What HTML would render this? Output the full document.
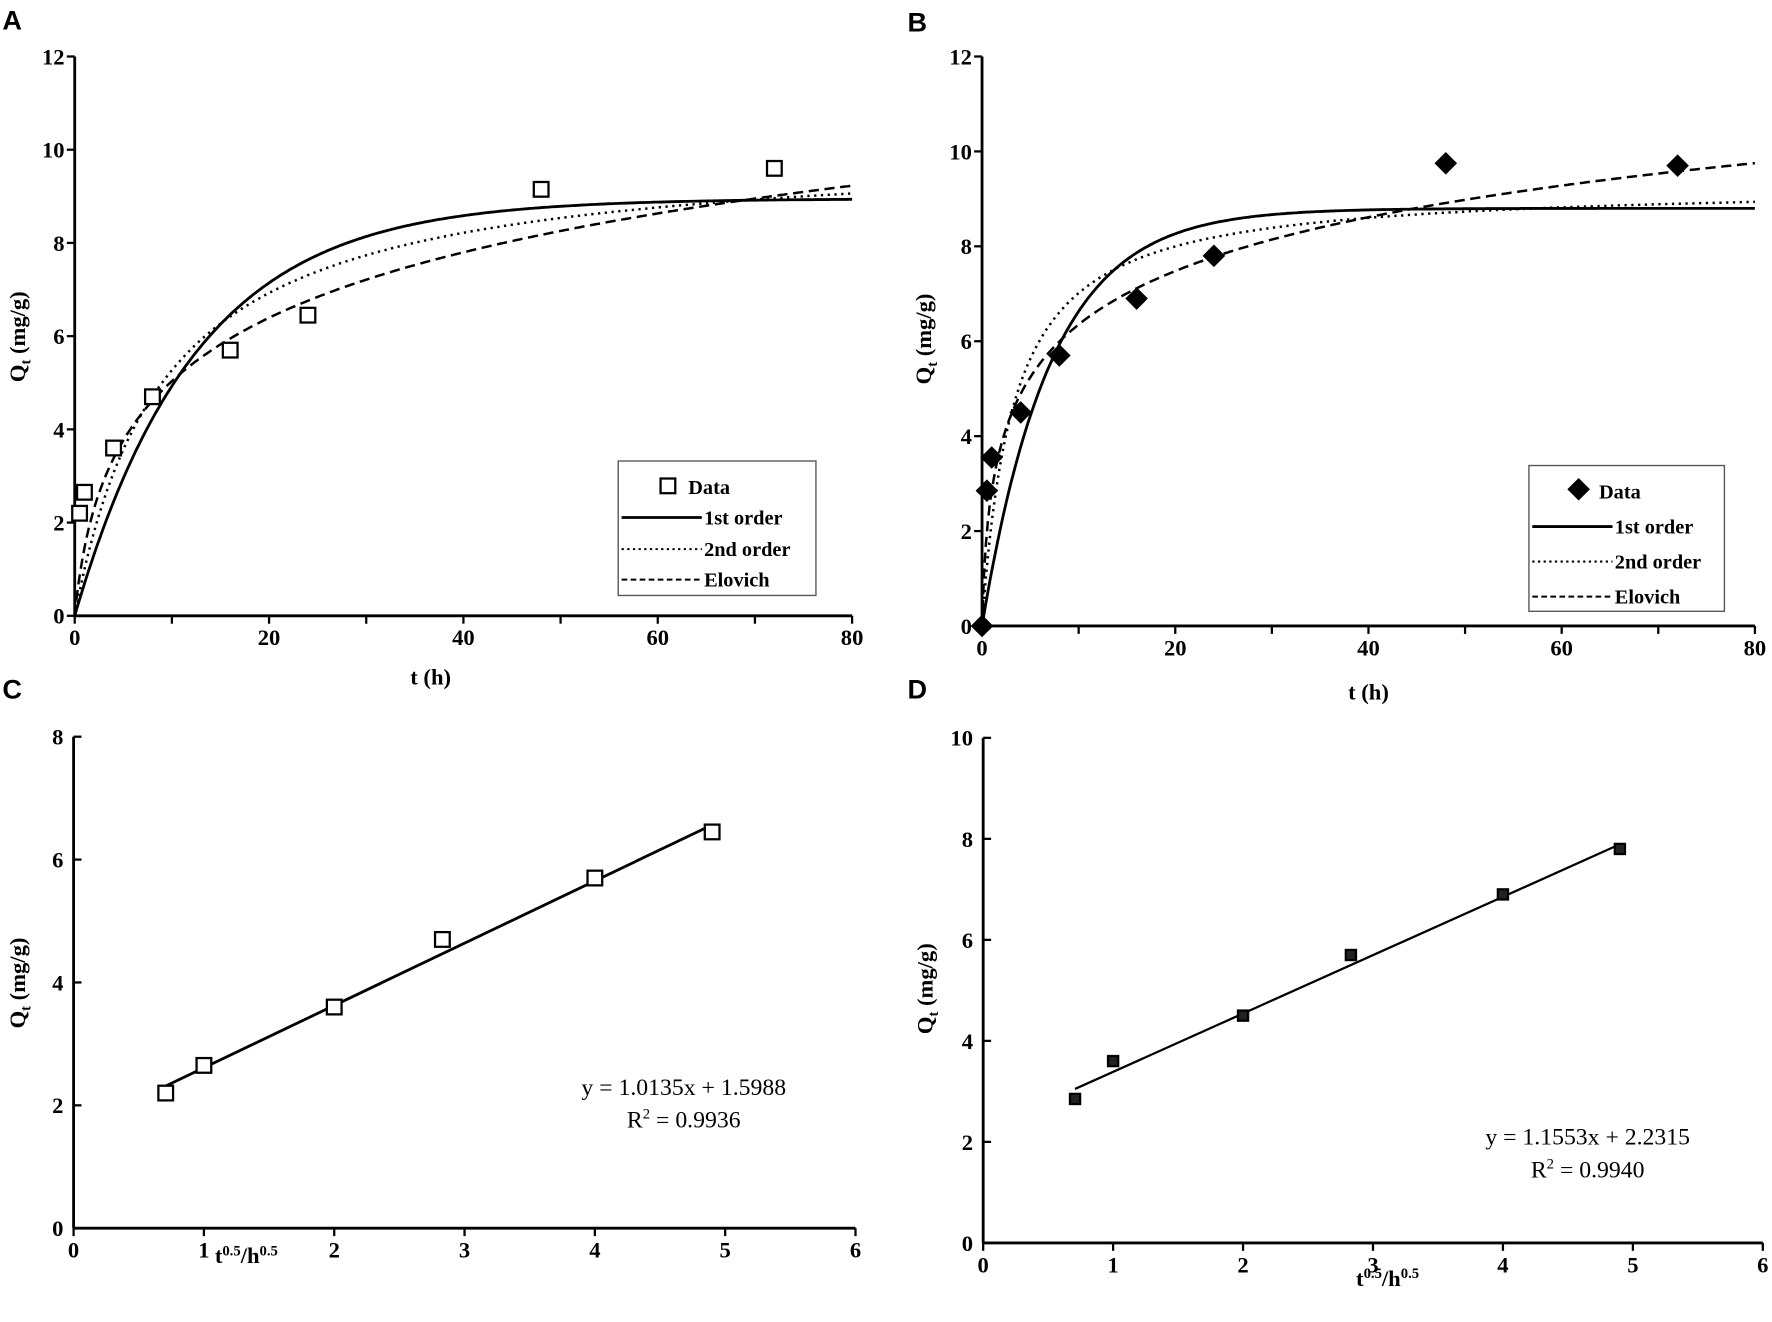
<!DOCTYPE html>
<html><head><meta charset="utf-8"><style>
html,body{margin:0;padding:0;background:#fff}
svg{display:block}
text{font-family:"Liberation Serif",serif;fill:#000}
.tk{font-weight:bold;font-size:20px}
.pl{font-family:"Liberation Sans",sans-serif;font-weight:bold;font-size:24px}
.lg{font-weight:bold;font-size:18px}
.eq{font-size:21px}
</style></head><body>
<svg id="fig" width="1772" height="1322" viewBox="0 0 1568 1170" xmlns="http://www.w3.org/2000/svg"></svg>
<script>
// Panel A data
const tA = [0.5, 1, 4, 8, 16, 24, 48, 72];
const qA = [2.2, 2.65, 3.6, 4.7, 5.7, 6.45, 9.15, 9.6];
// Panel B data
const tB = [0, 0.5, 1, 4, 8, 16, 24, 48, 72];
const qB = [0, 2.85, 3.55, 4.5, 5.7, 6.9, 7.8, 9.75, 9.7];
// Model parameters [qe, k] / Elovich [1/b, ab]
const firstA = [8.95, 0.08];
const secondA = [10.1, 0.0108];
const elovA = [2.1, 1.0];
const firstB = [8.8, 0.14];
const secondB = [9.3, 0.033];
const elovB = [1.65, 4.6];
// Panel C/D (intraparticle diffusion)
const xC = [0.707, 1, 2, 2.83, 4, 4.9];
const qC = [2.2, 2.65, 3.6, 4.7, 5.7, 6.45];
const lineC = [1.0135, 1.5988];
const xD = [0.707, 1, 2, 2.83, 4, 4.9];
const qD = [2.85, 3.6, 4.5, 5.7, 6.9, 7.8];
const lineD = [1.1553, 2.2315];
const ticksTime = [0, 20, 40, 60, 80];
const ticksQ12 = [0, 2, 4, 6, 8, 10, 12];
const ticksQ8 = [0, 2, 4, 6, 8];
const ticksQ10 = [0, 2, 4, 6, 8, 10];
const ticksSqrt = [0, 1, 2, 3, 4, 5, 6];

const NS = "http://www.w3.org/2000/svg";
const svg = document.getElementById('fig');
function el(tag, attrs, parent, txt) {
  const e = document.createElementNS(NS, tag);
  for (const k in attrs) e.setAttribute(k, attrs[k]);
  if (txt !== undefined) e.textContent = txt;
  (parent || svg).appendChild(e);
  return e;
}
function scale(d0, d1, r0, r1) { return v => r0 + (v - d0) / (d1 - d0) * (r1 - r0); }

function axes(g, X, Y, xmax, ymax, xt, yt, minorStep, tickIn) {
  let a = el('line', {x1: X(0), y1: Y(0), x2: X(xmax), y2: Y(0), stroke: '#000', 'stroke-width': 2.5}, g);
   
  a = el('line', {x1: X(0), y1: Y(0), x2: X(0), y2: Y(ymax), stroke: '#000', 'stroke-width': 2.5}, g);
   
  for (let v = 0; v <= xmax + 1e-9; v += minorStep) {
    el('line', {x1: X(v), y1: Y(0), x2: X(v), y2: Y(0) + 7, stroke: '#000', 'stroke-width': 2}, g);
  }
  xt.forEach(v => {
    const t = el('text', {x: X(v), y: Y(0) + 26, 'text-anchor': 'middle', class: 'tk'}, g, v);
     
  });
  yt.forEach(v => {
    el('line', {x1: X(0) + (tickIn ? 7 : -7), y1: Y(v), x2: X(0), y2: Y(v), stroke: '#000', 'stroke-width': 2}, g);
    const t = el('text', {x: X(0) - 9, y: Y(v) + 7, 'text-anchor': 'end', class: 'tk'}, g, v);
     
  });
}
function ylabel(g, x, y) {
  const t = el('text', {transform: `translate(${x},${y}) rotate(-90)`, 'text-anchor': 'middle', class: 'tk'}, g);
   
  el('tspan', {}, t, 'Q');
  el('tspan', {'font-size': 13, dy: 5}, t, 't');
  el('tspan', {dy: -5}, t, ' (mg/g)');
}
function curve(g, X, Y, f, dash, w, name) {
  let d = '';
  for (let i = 0; i <= 400; i++) { const t = 80 * i / 400; d += (i ? 'L' : 'M') + X(t).toFixed(1) + ',' + Y(f(t)).toFixed(1); }
  const p = el('path', {d: d, fill: 'none', stroke: '#000', 'stroke-width': w, 'stroke-dasharray': dash}, g);
   
}
const f1 = p => t => p[0] * (1 - Math.exp(-p[1] * t));
const f2 = p => t => p[0] * p[0] * p[1] * t / (1 + p[0] * p[1] * t);
const fe = p => t => p[0] * Math.log(1 + p[1] * t);

function panelLetter(x, y, s) {
  const t = el('text', {x: x, y: y, class: 'pl'}, svg, s);
   
}
panelLetter(2, 26, 'A'); panelLetter(803, 28, 'B'); panelLetter(2, 618, 'C'); panelLetter(803, 618, 'D');

function square(g, x, y, s, fill) {
  const r = el('rect', {x: x - s / 2, y: y - s / 2, width: s, height: s, fill: fill, stroke: '#000', 'stroke-width': 2}, g);
   
}
function diamond(g, x, y, s) {
  const r = el('path', {d: `M${x},${y - s}L${x + s},${y}L${x},${y + s}L${x - s},${y}Z`, fill: '#000'}, g);
   
}
function legend(g, x, y, w, h, rows, marker) {
  const b = el('rect', {x: x, y: y, width: w, height: h, fill: '#fff', stroke: '#555', 'stroke-width': 1.2}, g);
   
  marker(x + 40, rows[0]);
  const labels = ['Data', '1st order', '2nd order', 'Elovich'];
  const dashes = ['', 'none', '2,3', '5,3'];
  const lx = [x + 62, x + 76, x + 76, x + 76];
  labels.forEach((s, i) => {
    if (i > 0) el('line', {x1: x + 3, y1: rows[i] - 5, x2: x + 74, y2: rows[i] - 5, stroke: '#000', 'stroke-width': i === 1 ? 2.5 : 1.8, 'stroke-dasharray': dashes[i]}, g);
    const t = el('text', {x: lx[i], y: rows[i] + 1, class: 'lg'}, g, s);
     
  });
}

// Panel A
{
  const g = el('g', {});  
  const X = scale(0, 80, 66, 754), Y = scale(0, 12, 545, 50);
  axes(g, X, Y, 80, 12, ticksTime, ticksQ12, 10, false);
  ylabel(g, 22, 298);
  const xl = el('text', {x: 381, y: 606, 'text-anchor': 'middle', class: 'tk'}, g, 't (h)');
   
  curve(g, X, Y, f1(firstA), 'none', 2.5, 'first-order-curve');
  curve(g, X, Y, f2(secondA), '2,4', 2.2, 'second-order-curve');
  curve(g, X, Y, fe(elovA), '9,5', 2.2, 'elovich-curve');
  tA.forEach((t, i) => square(g, X(t), Y(qA[i]), 13, '#fff'));
  legend(g, 547, 408, 175, 119, [436, 463, 491, 518], (x, y) => square(g, x + 4, y - 6, 13, '#fff'));
}
// Panel B
{
  const g = el('g', {});  
  const X = scale(0, 80, 869, 1553), Y = scale(0, 12, 554, 50);
  axes(g, X, Y, 80, 12, ticksTime, ticksQ12, 10, false);
  ylabel(g, 824, 300);
  const xl = el('text', {x: 1211, y: 619, 'text-anchor': 'middle', class: 'tk'}, g, 't (h)');
   
  curve(g, X, Y, f1(firstB), 'none', 2.5, 'first-order-curve');
  curve(g, X, Y, f2(secondB), '2,4', 2.2, 'second-order-curve');
  curve(g, X, Y, fe(elovB), '9,5', 2.2, 'elovich-curve');
  tB.forEach((t, i) => diamond(g, X(t), Y(qB[i]), 10));
  legend(g, 1353, 412, 173, 129, [440, 471, 502, 533], (x, y) => diamond(g, x + 4, y - 7, 10));
}
function linPanel(name, X, Y, xs, qs, line, xmax, ymax, yt, ylx, yly, xlx, xly, eqx, eqy, r2, pt) {
  const g = el('g', {});  
  axes(g, X, Y, xmax, ymax, ticksSqrt, yt, 1, true);
  ylabel(g, ylx, yly);
  const xl = el('text', {x: xlx, y: xly, 'text-anchor': 'start', class: 'tk'}, g);
   
  el('tspan', {}, xl, 't'); el('tspan', {'font-size': 13, dy: -7}, xl, '0.5');
  el('tspan', {dy: 7}, xl, '/h'); el('tspan', {'font-size': 13, dy: -7}, xl, '0.5');
  const x0 = xs[0], x1 = xs[xs.length - 1];
  const l = el('line', {x1: X(x0), y1: Y(line[0] * x0 + line[1]), x2: X(x1), y2: Y(line[0] * x1 + line[1]), stroke: '#000', 'stroke-width': pt ? 2.5 : 2}, g);
   
  xs.forEach((x, i) => pt ? square(g, X(x), Y(qs[i]), 13, '#fff') : square(g, X(x), Y(qs[i]), 9, '#222'));
  const e1 = el('text', {x: eqx, y: eqy, 'text-anchor': 'middle', class: 'eq'}, g, `y = ${line[0].toFixed(4)}x + ${line[1].toFixed(4)}`);
   
  const e2 = el('text', {x: eqx, y: eqy + 29, 'text-anchor': 'middle', class: 'eq'}, g);
   
  el('tspan', {}, e2, 'R'); el('tspan', {'font-size': 13, dy: -8}, e2, '2'); el('tspan', {dy: 8}, e2, ' = ' + r2);
}
linPanel('panel-c', scale(0, 6, 65, 757), scale(0, 8, 1087, 652), xC, qC, lineC, 6, 8, ticksQ8, 22, 870, 190, 1118, 605, 969, '0.9936', true);
linPanel('panel-d', scale(0, 6, 870, 1560), scale(0, 10, 1100, 653), xD, qD, lineD, 6, 10, ticksQ10, 825, 875, 1200, 1138, 1405, 1013, '0.9940', false);
</script>
</body></html>
